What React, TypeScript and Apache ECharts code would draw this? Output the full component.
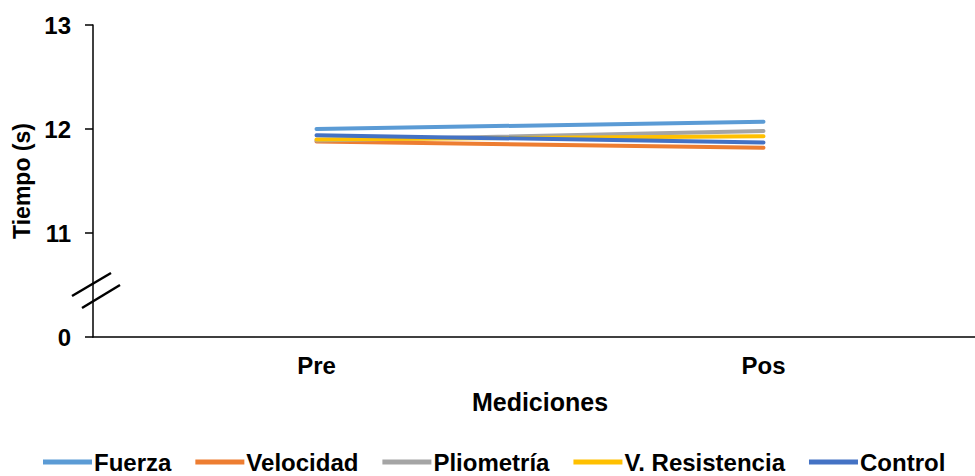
import React, { useEffect, useRef } from "react";
import * as echarts from "echarts";

const categories = ["Pre", "Pos"];
const seriesNames = ["Fuerza", "Velocidad", "Pliometría", "V. Resistencia", "Control"];
const fuerza = [12.0, 12.07];
const velocidad = [11.88, 11.82];
const pliometria = [11.89, 11.98];
const vResistencia = [11.9, 11.93];
const control = [11.94, 11.87];
const colors = ["#5B9BD5", "#ED7D31", "#A5A5A5", "#FFC000", "#4472C4"];
const yTicks = [10, 11, 12, 13];
const yTickLabels = ["0", "11", "12", "13"];

export default function App() {
  const ref = useRef<HTMLDivElement>(null);
  useEffect(() => {
    if (!ref.current) return;
    const chart = echarts.init(ref.current, null, { renderer: "svg" });
    const values = [fuerza, velocidad, pliometria, vResistencia, control];
    const font = "'Liberation Sans', Arial, sans-serif";
    chart.setOption({
      animation: false,
      textStyle: { fontFamily: font },
      color: colors,
      grid: { left: 93, width: 894, top: 25, bottom: 139, containLabel: false, outerBoundsMode: "none" },
      legend: {
        bottom: 1,
        left: 43,
        itemWidth: 49,
        itemHeight: 5,
        itemGap: 24,
        icon: "rect",
        padding: 0,
        textStyle: { fontFamily: font, fontWeight: "bold", fontSize: 24, lineHeight: 26, color: "#000", padding: [0, 0, 0, -3] },
        data: seriesNames,
      },
      xAxis: {
        type: "category",
        data: categories,
        boundaryGap: true,
        name: "Mediciones",
        nameLocation: "middle",
        nameGap: 52,
        nameTextStyle: { fontWeight: "bold", fontSize: 25, color: "#000" },
        axisLine: { lineStyle: { color: "#000", width: 1.5 } },
        axisTick: { show: false },
        axisLabel: { fontWeight: "bold", fontSize: 24, color: "#000", margin: 16 },
        splitLine: { show: false },
      },
      yAxis: {
        type: "value",
        min: 10,
        max: 13,
        interval: 1,
        name: "Tiempo (s)",
        nameLocation: "middle",
        nameGap: 54,
        nameTextStyle: { fontWeight: "bold", fontSize: 23, color: "#000" },
        axisLine: { show: true, lineStyle: { color: "#000", width: 1.5 } },
        axisTick: { show: true, length: 8, lineStyle: { color: "#000", width: 1.5 } },
        axisLabel: {
          fontWeight: "bold",
          fontSize: 24,
          color: "#000",
          margin: 22,
          formatter: (v: number) => {
            const i = yTicks.indexOf(v);
            return i >= 0 ? yTickLabels[i] : "";
          },
        },
        splitLine: { show: false },
      },
      graphic: [
        { type: "line", shape: { x1: 72, y1: 296, x2: 111, y2: 273 }, style: { stroke: "#000", lineWidth: 2.5 } },
        { type: "line", shape: { x1: 82, y1: 308, x2: 120, y2: 285 }, style: { stroke: "#000", lineWidth: 2.5 } },
      ],
      series: seriesNames.map((n, i) => ({
        name: n,
        type: "line",
        data: values[i],
        symbol: "none",
        lineStyle: { width: 4, color: colors[i], cap: "round" },
        itemStyle: { color: colors[i] },
      })),
    });
    return () => chart.dispose();
  }, []);
  return <div ref={ref} style={{ width: 975, height: 476, position: "absolute", left: 0, top: 0 }} />;
}
